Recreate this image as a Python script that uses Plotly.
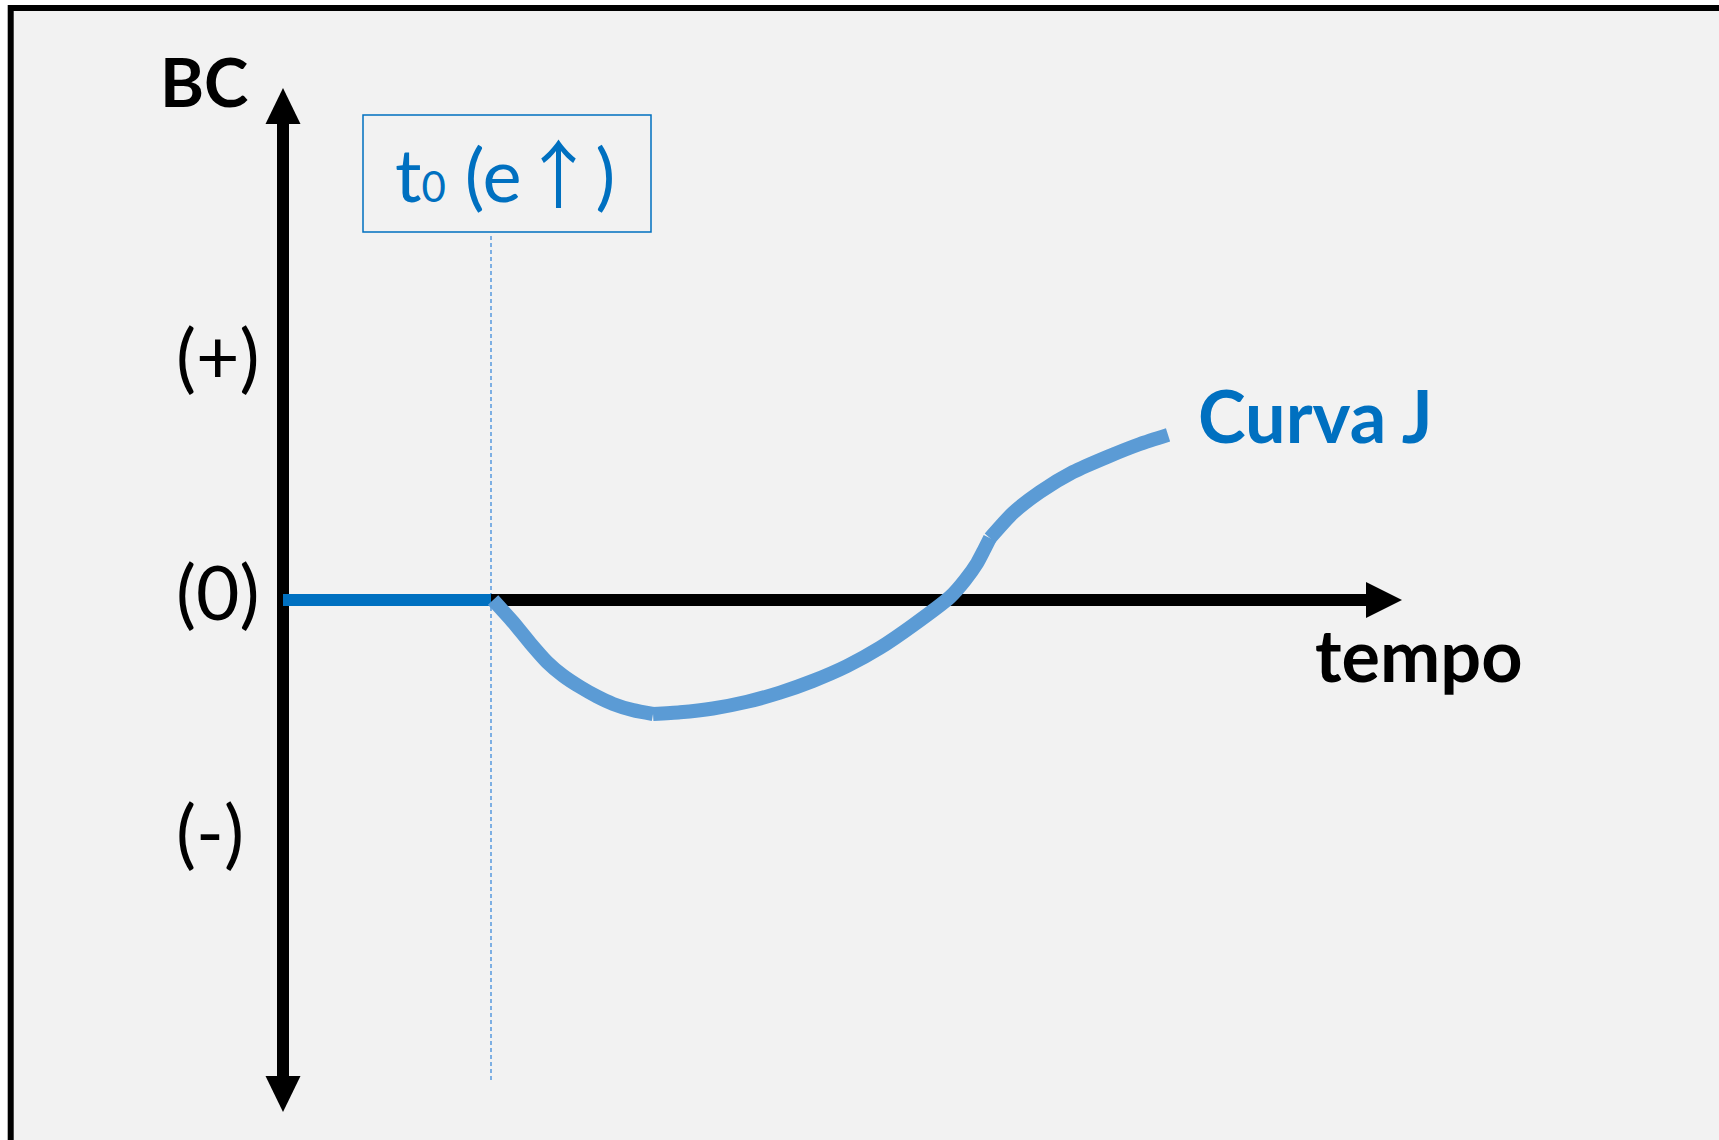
import plotly.graph_objects as go

# ---------------- data ----------------
# flat part before t0 (BC at zero)
flat_x = [0.0, 1.0]
flat_y = [0.0, 0.0]

# J-curve, three smooth pieces (time in units of t0, BC in arbitrary units)
seg1_x = [1.010, 1.106, 1.188, 1.269, 1.346, 1.428, 1.510, 1.587, 1.683, 1.779]
seg1_y = [0.0, -0.092, -0.179, -0.258, -0.315, -0.362, -0.402, -0.433, -0.459, -0.475]
seg2_x = [1.779, 1.909, 2.067, 2.231, 2.389, 2.548, 2.712, 2.870, 3.029, 3.207, 3.279, 3.337, 3.370, 3.399]
seg2_y = [-0.475, -0.468, -0.452, -0.424, -0.386, -0.337, -0.275, -0.199, -0.105, 0.0125, 0.083, 0.154, 0.208, 0.258]
seg3_x = [3.399, 3.510, 3.639, 3.798, 3.962, 4.12, 4.255]
seg3_y = [0.258, 0.363, 0.45, 0.533, 0.596, 0.65, 0.688]

# y tick labels
tick_labels = ["(+)", "(0)", "(-)"]
tick_values = [1, 0, -1]

t0 = 1.0

# ---------------- layout constants ----------------
W, H = 1719, 1140
PX_X = 208.0   # pixels per x unit
PX_Y = 240.0   # pixels per y unit
OX, OY = 283.0, 600.0

x_range = [-OX / PX_X, (W - OX) / PX_X]
y_range = [(OY - H) / PX_Y, OY / PX_Y]

BLUE = "#0070C0"
CURVE = "#5B9BD5"
FONT = "Lato"

fig = go.Figure()

# curve traces
fig.add_trace(go.Scatter(x=flat_x, y=flat_y, mode="lines",
                         line=dict(color=BLUE, width=12), hoverinfo="skip"))
for sx, sy in [(seg1_x, seg1_y), (seg2_x, seg2_y), (seg3_x, seg3_y)]:
    fig.add_trace(go.Scatter(x=sx, y=sy, mode="lines",
                             line=dict(color=CURVE, width=14, shape="spline", smoothing=0.6),
                             hoverinfo="skip"))

shapes = []
# background panel with black frame
shapes.append(dict(type="rect", xref="paper", yref="paper",
                   x0=10.7 / W, x1=1.05, y0=-0.05, y1=1 - 8 / H,
                   line=dict(color="black", width=6), fillcolor="#F2F2F2", layer="below"))

# axes geometry
v_base = 476 / PX_Y
v_tip = 512 / PX_Y
hw_v = 17.5 / PX_X
h_base = (1366 - OX) / PX_X
h_tip = (1402 - OX) / PX_X
hw_h = 18 / PX_Y

# dotted vertical line at t0
shapes.append(dict(type="line", xref="x", yref="y", x0=t0, x1=t0,
                   y0=(OY - 1080) / PX_Y, y1=(OY - 233) / PX_Y,
                   line=dict(color="#7DAFE3", width=2, dash="4px,3px"), layer="below"))

# vertical axis
shapes.append(dict(type="line", xref="x", yref="y", x0=0, x1=0, y0=-v_base, y1=v_base,
                   line=dict(color="black", width=12), layer="below"))
shapes.append(dict(type="path", xref="x", yref="y",
                   path=f"M {-hw_v},{v_base} L 0,{v_tip} L {hw_v},{v_base} Z",
                   fillcolor="black", line=dict(width=0), layer="below"))
shapes.append(dict(type="path", xref="x", yref="y",
                   path=f"M {-hw_v},{-v_base} L 0,{-v_tip} L {hw_v},{-v_base} Z",
                   fillcolor="black", line=dict(width=0), layer="below"))
# horizontal axis
shapes.append(dict(type="line", xref="x", yref="y", x0=0, x1=h_base, y0=0, y1=0,
                   line=dict(color="black", width=12), layer="below"))
shapes.append(dict(type="path", xref="x", yref="y",
                   path=f"M {h_base},{-hw_h} L {h_tip},0 L {h_base},{hw_h} Z",
                   fillcolor="black", line=dict(width=0), layer="below"))

# t0 box
shapes.append(dict(type="rect", xref="x", yref="y",
                   x0=(363 - OX) / PX_X, x1=(651 - OX) / PX_X,
                   y0=(OY - 232) / PX_Y, y1=(OY - 115) / PX_Y,
                   line=dict(color=BLUE, width=1.5), fillcolor="rgba(0,0,0,0)", layer="above"))

annotations = []
# y tick labels
tick_x = [-0.3125, -0.3125, -0.349]
tick_y_off = [0.021, 0.039, 0.039]
for lbl, val, tx, off in zip(tick_labels, tick_values, tick_x, tick_y_off):
    annotations.append(dict(x=tx, y=val + off, xref="x", yref="y", text=lbl, showarrow=False,
                            font=dict(family=FONT, size=75, color="black"),
                            xanchor="center", yanchor="middle"))

annotations.append(dict(x=-0.382, y=2.164, xref="x", yref="y", text="<b>BC</b>", showarrow=False,
                        font=dict(family=FONT, size=67, color="black"),
                        xanchor="center", yanchor="middle"))
annotations.append(dict(x=5.46, y=-0.223, xref="x", yref="y", text="<b>tempo</b>", showarrow=False,
                        font=dict(family=FONT, size=72, color="black"),
                        xanchor="center", yanchor="middle"))
annotations.append(dict(x=4.962, y=0.77, xref="x", yref="y", text="<b>Curva J</b>", showarrow=False,
                        font=dict(family=FONT, size=72, color=BLUE),
                        xanchor="center", yanchor="middle"))
annotations.append(dict(x=1.069, y=1.795, xref="x", yref="y",
                        text='t<span style="font-size:42px">0</span> (e'
                             '<span style="font-family:\'Noto Sans CJK JP\'">↑</span>)',
                        showarrow=False,
                        font=dict(family=FONT, size=74, color=BLUE),
                        xanchor="center", yanchor="middle"))

fig.update_layout(
    width=W, height=H,
    margin=dict(l=0, r=0, t=0, b=0, pad=0),
    paper_bgcolor="white", plot_bgcolor="white",
    showlegend=False,
    xaxis=dict(range=x_range, visible=False, showgrid=False, zeroline=False, fixedrange=True),
    yaxis=dict(range=y_range, visible=False, showgrid=False, zeroline=False, fixedrange=True),
    shapes=shapes, annotations=annotations,
)

fig.write_html("out.html", config={"displayModeBar": False},
               post_script="document.body.style.margin='0';document.body.style.overflow='hidden';")
